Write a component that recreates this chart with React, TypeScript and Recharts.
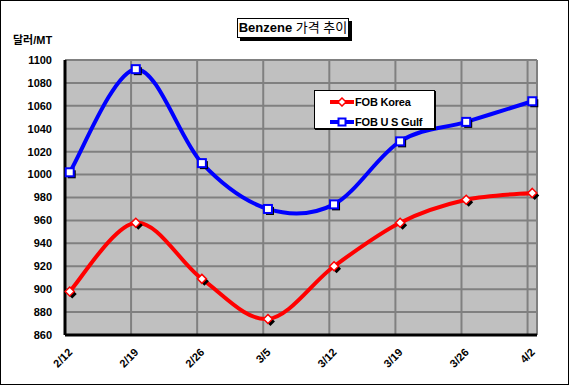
import { CartesianGrid, Legend, Line, LineChart, ReferenceLine, XAxis, YAxis } from "recharts"

const FONT = 'Arial, "Liberation Sans", "Noto Sans CJK KR", sans-serif'

// weekly quotes, day offsets counted from 2/12
const dates = ["2/12", "2/19", "2/26", "3/5", "3/12", "3/19", "3/26", "4/2"]
const dayOffsets = [0, 7, 14, 21, 28, 35, 42, 49]
const fobKorea = [898, 958, 909, 874, 920, 958, 978, 984]
const fobUsGulf = [1002, 1092, 1010, 970, 974, 1029, 1046, 1064]
const yTicks = [860, 880, 900, 920, 940, 960, 980, 1000, 1020, 1040, 1060, 1080, 1100]

// excel date axis puts each point in the middle of its day slot
const data = dates.map((date, i) => ({
  date,
  day: dayOffsets[i] + 0.5,
  korea: fobKorea[i],
  gulf: fobUsGulf[i],
}))

const legendItems = [
  { name: "FOB Korea", color: "#FF0000", marker: "diamond" },
  { name: "FOB U S Gulf", color: "#0000FF", marker: "square" },
]

// excel-like smoothing (catmull-rom bezier)
function excelSmooth(context: any) {
  let pts: [number, number][] = []
  return {
    areaStart() {},
    areaEnd() {},
    lineStart() {
      pts = []
    },
    lineEnd() {
      if (!pts.length) return
      context.moveTo(pts[0][0], pts[0][1])
      for (let i = 0; i < pts.length - 1; i++) {
        const p0 = pts[Math.max(0, i - 1)]
        const p1 = pts[i]
        const p2 = pts[i + 1]
        const p3 = pts[Math.min(pts.length - 1, i + 2)]
        context.bezierCurveTo(
          p1[0] + (p2[0] - p0[0]) / 6,
          p1[1] + (p2[1] - p0[1]) / 6,
          p2[0] - (p3[0] - p1[0]) / 6,
          p2[1] - (p3[1] - p1[1]) / 6,
          p2[0],
          p2[1]
        )
      }
    },
    point(x: number, y: number) {
      pts.push([+x, +y])
    },
  }
}

function diamond(cx: number, cy: number, r: number) {
  return `${cx},${cy - r} ${cx + r},${cy} ${cx},${cy + r} ${cx - r},${cy}`
}

const DiamondDot = (props: any) => {
  const { cx, cy } = props
  if (cx == null || cy == null) return null
  return (
    <g>
      <polygon points={diamond(cx + 2.5, cy + 2.5, 4.5)} fill="#000" />
      <polygon points={diamond(cx, cy, 4.5)} fill="#fff" stroke="#FF0000" strokeWidth={1.5} />
    </g>
  )
}

const SquareDot = (props: any) => {
  const { cx, cy } = props
  if (cx == null || cy == null) return null
  return (
    <g>
      <rect x={cx - 2} y={cy - 2} width={8} height={8} fill="#000" />
      <rect x={cx - 4} y={cy - 4} width={8} height={8} fill="#fff" stroke="#0000FF" strokeWidth={2} />
    </g>
  )
}

const DateTick = (props: any) => {
  const { x, payload } = props
  const label = dates[dayOffsets.indexOf(payload.value)]
  return (
    <g transform={`translate(${x + 8},${353})`}>
      <text
        textAnchor="end"
        transform="rotate(-45)"
        fontSize={11}
        fontWeight="bold"
        fontFamily={FONT}
        fill="#000"
      >
        {label}
      </text>
    </g>
  )
}

const LegendBox = () => (
  <div
    style={{
      width: 121,
      height: 39,
      boxSizing: "border-box",
      border: "1px solid #000",
      boxShadow: "1px 1px 0 #000",
      background: "#fff",
      fontFamily: FONT,
      fontSize: 11,
      fontWeight: "bold",
      paddingTop: 2,
    }}
  >
    {legendItems.map((item) => (
      <div key={item.name} style={{ display: "flex", alignItems: "center", height: 17, marginBottom: 3 }}>
        <svg width={24} height={10} style={{ marginLeft: 15 }}>
          <line x1={0} y1={5} x2={24} y2={5} stroke={item.color} strokeWidth={4} />
          {item.marker === "diamond" ? (
            <polygon points={diamond(12, 5, 4)} fill="#fff" stroke={item.color} strokeWidth={1.5} />
          ) : (
            <rect x={8.5} y={1.5} width={7} height={7} fill="#fff" stroke={item.color} strokeWidth={2} />
          )}
        </svg>
        <span style={{ marginLeft: 1, letterSpacing: -0.2, whiteSpace: "nowrap" }}>{item.name}</span>
      </div>
    ))}
  </div>
)

export default function App() {
  return (
    <div style={{ position: "absolute", left: 0, top: 0, width: 570, height: 386, background: "#fff" }}>
      <LineChart width={570} height={386} data={data} margin={{ top: 60, right: 33, bottom: 0, left: 0 }}>
        <CartesianGrid fill="#C0C0C0" stroke="#808080" strokeWidth={2} />
        <ReferenceLine x={50} stroke="#808080" strokeWidth={2} />
        <XAxis
          dataKey="day"
          type="number"
          domain={[0, 50]}
          ticks={dayOffsets}
          interval={0}
          height={51}
          axisLine={{ stroke: "#000", strokeWidth: 3 }}
          tickLine={false}
          tick={<DateTick />}
        />
        <YAxis
          type="number"
          domain={[860, 1100]}
          ticks={yTicks}
          interval={0}
          width={65}
          axisLine={{ stroke: "#000", strokeWidth: 3 }}
          tickLine={false}
          tickMargin={7}
          tick={{ fill: "#000", fontSize: 11, fontWeight: "bold", fontFamily: FONT }}
        />
        <Legend
          layout="vertical"
          align="center"
          verticalAlign="middle"
          content={<LegendBox />}
          wrapperStyle={{ left: 314, top: 90, width: 121, height: 39 }}
        />
        <Line
          dataKey="korea"
          name="FOB Korea"
          type={excelSmooth as any}
          stroke="#FF0000"
          strokeWidth={4}
          dot={<DiamondDot />}
          activeDot={false}
          isAnimationActive={false}
        />
        <Line
          dataKey="gulf"
          name="FOB U S Gulf"
          type={excelSmooth as any}
          stroke="#0000FF"
          strokeWidth={4}
          dot={<SquareDot />}
          activeDot={false}
          isAnimationActive={false}
        />
      </LineChart>
      <div
        style={{
          position: "absolute",
          left: 237,
          top: 18,
          width: 112,
          height: 20,
          boxSizing: "border-box",
          border: "1.5px solid #000",
          boxShadow: "3px 3px 0 #000",
          background: "#fff",
          fontFamily: FONT,
          fontSize: 13,
          fontWeight: "bold",
          lineHeight: "17px",
          textAlign: "center",
          whiteSpace: "nowrap",
        }}
      >
        Benzene <span style={{ fontWeight: "normal" }}>가격 추이</span>
      </div>
      <div
        style={{
          position: "absolute",
          left: 13,
          top: 31,
          fontFamily: FONT,
          fontSize: 11,
          fontWeight: "bold",
          whiteSpace: "nowrap",
        }}
      >
        달러/MT
      </div>
      <div
        style={{
          position: "absolute",
          left: 0,
          top: 0,
          width: 569,
          height: 385,
          boxSizing: "border-box",
          border: "1px solid #000",
          pointerEvents: "none",
        }}
      />
    </div>
  )
}
